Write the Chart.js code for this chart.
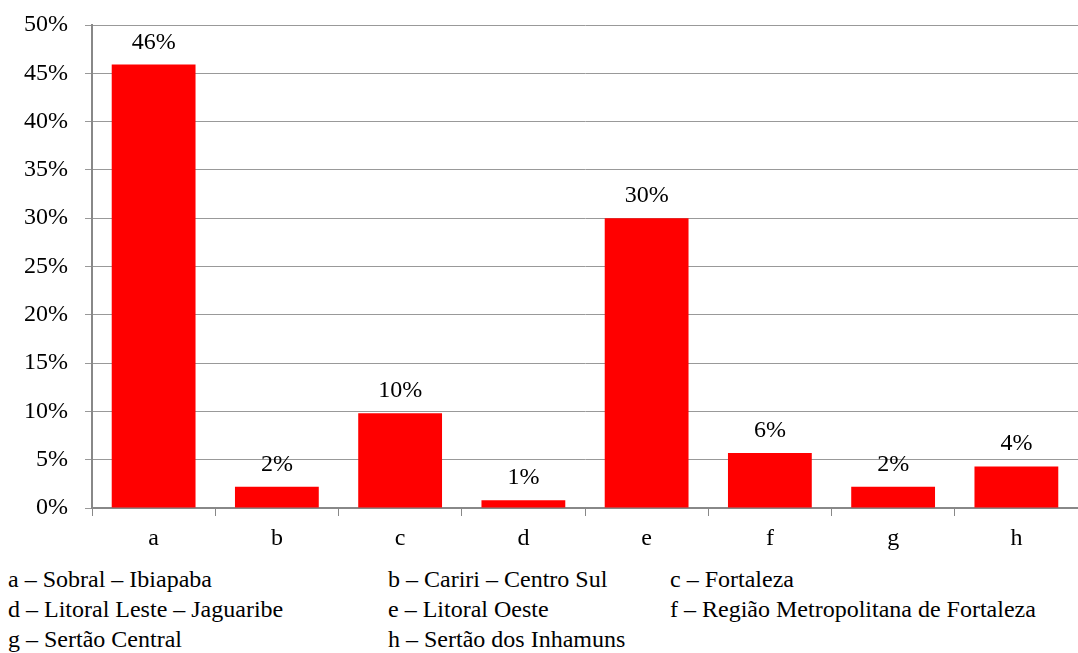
<!DOCTYPE html>
<html>
<head>
<meta charset="utf-8">
<script src="https://cdn.jsdelivr.net/npm/chart.js@4/dist/chart.umd.min.js"></script>
<style>
  html, body { margin: 0; padding: 0; background: #fff; font-family: 'Liberation Serif'; }
  #wrap { position: relative; width: 1078px; height: 653px; overflow: hidden; }
  #chart { position: absolute; left: 0; top: 0; }
  .key { position: absolute; font-family: 'Liberation Serif'; font-size: 24px; color: #000; white-space: nowrap; line-height: 1; }
</style>
</head>
<body>
<div id="wrap">
  <canvas id="chart" width="1078" height="560"></canvas>
  <!-- Key below the chart: three columns, filled row by row -->
  <div class="key" style="left:8px;top:567px">a – Sobral – Ibiapaba</div>
  <div class="key" style="left:388px;top:567px">b – Cariri – Centro Sul</div>
  <div class="key" style="left:670px;top:567px">c – Fortaleza</div>
  <div class="key" style="left:8px;top:597px">d – Litoral Leste – Jaguaribe</div>
  <div class="key" style="left:388px;top:597px">e – Litoral Oeste</div>
  <div class="key" style="left:670px;top:597px">f – Região Metropolitana de Fortaleza</div>
  <div class="key" style="left:8px;top:627px">g – Sertão Central</div>
  <div class="key" style="left:388px;top:627px">h – Sertão dos Inhamuns</div>
</div>
<script>
// Regions (category letters) and their share of the total, in percent
const categories = ['a', 'b', 'c', 'd', 'e', 'f', 'g', 'h'];
const shares = [45.9, 2.2, 9.8, 0.8, 30.0, 5.7, 2.2, 4.3];
const yTicks = [0, 5, 10, 15, 20, 25, 30, 35, 40, 45, 50];

const FONT = "'Liberation Serif'";
const SIZE = 24;

// Percent labels above each bar
const barLabels = {
  id: 'barLabels',
  afterDatasetsDraw(chart) {
    const ctx = chart.ctx;
    const meta = chart.getDatasetMeta(0);
    ctx.save();
    ctx.font = 'normal ' + SIZE + 'px ' + FONT;
    ctx.fillStyle = '#000';
    ctx.textAlign = 'center';
    ctx.textBaseline = 'alphabetic';
    meta.data.forEach((bar, i) => {
      ctx.fillText(Math.round(shares[i]) + '%', bar.x, bar.y - 16);
    });
    ctx.restore();
  }
};

// Drop the extra space Chart.js reserves around the end tick labels
function trimPadding(scale) {
  scale.paddingTop = 0;
  scale.paddingBottom = 0;
}

const chart = new Chart(document.getElementById('chart'), {
  type: 'bar',
  data: {
    labels: categories,
    datasets: [{
      data: shares,
      backgroundColor: '#ff0000',
      borderWidth: 0,
      barPercentage: 0.68,
      categoryPercentage: 1.0
    }]
  },
  options: {
    responsive: false,
    animation: false,
    layout: { padding: { top: 25, right: 0, left: 0, bottom: 0 } },
    plugins: { legend: { display: false }, tooltip: { enabled: false } },
    scales: {
      x: {
        offset: true,
        grid: { display: true, drawOnChartArea: false, drawTicks: true, tickLength: 8, color: '#888', offset: true },
        border: { display: true, color: '#888', width: 2 },
        ticks: { color: '#000', font: { family: FONT, size: SIZE }, padding: 8 },
        afterFit(scale) { scale.height = 52; }
      },
      y: {
        min: 0,
        max: 50,
        afterBuildTicks(scale) { scale.ticks = yTicks.map(v => ({ value: v })); },
        grid: { color: '#999', lineWidth: 1, tickLength: 7, drawTicks: true },
        border: { display: true, color: '#888', width: 2 },
        ticks: {
          color: '#000',
          font: { family: FONT, size: SIZE },
          padding: 17,
          callback: v => v + '%'
        },
        afterFit(scale) { scale.width = 92; trimPadding(scale); }
      }
    }
  },
  plugins: [barLabels]
});

// Canvas text does not repaint by itself once the serif face is ready, so redraw then
function redraw() { chart.update('none'); }
document.fonts.load(SIZE + 'px ' + FONT).then(redraw, redraw);
document.fonts.ready.then(redraw);
window.addEventListener('load', redraw);
setTimeout(redraw, 200);
</script>
</body>
</html>
